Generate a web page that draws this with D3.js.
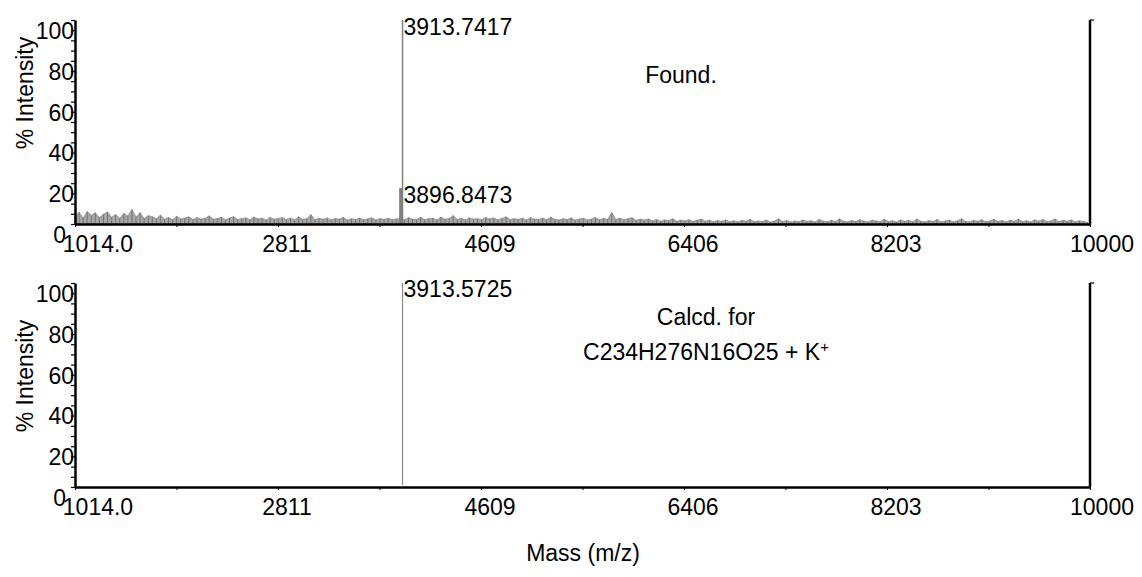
<!DOCTYPE html>
<html>
<head>
<meta charset="utf-8">
<script src="https://cdn.jsdelivr.net/npm/d3@7"></script>
<style>
body { margin: 0; background: #fff; }
text { font-family: "Liberation Sans", Arial, sans-serif; font-size: 23px; fill: #000; }
</style>
</head>
<body>
<script>
// mass range and ticks
var massMin = 1014, massMax = 10000;
var xTickValues = [1014, 2811, 4609, 6406, 8203, 10000];
var xTickLabels = ["1014.0", "2811", "4609", "6406", "8203", "10000"];
var yTickValues = [0, 20, 40, 60, 80, 100];

// found spectrum: background noise sampled every 36 Da from 1014
var noiseStart = 1014, noiseStep = 36;
var noiseValues = [
	3.5, 5.8, 2.9, 6.1, 4.2, 5.5, 3.1, 4.8, 5.9, 3.3,
	4.6, 2.8, 5.2, 3.9, 7.2, 3.4, 5.6, 2.7, 4.1, 3.6,
	2.6, 4.3, 2.4, 3.2, 2.1, 3.8, 2.5, 2.9, 3.5, 2.2,
	3.1, 2.4, 2.8, 4.0, 2.3, 2.7, 3.3, 2.0, 2.9, 3.6,
	2.2, 2.6, 3.0, 2.1, 3.4, 2.5, 2.8, 2.0, 3.2, 2.4,
	2.7, 3.1, 2.2, 2.9, 2.0, 3.5, 2.3, 2.6, 4.6, 2.1,
	2.8, 2.3, 3.0, 2.0, 2.7, 2.4, 3.2, 1.9, 2.6, 2.2,
	2.9, 2.1, 2.5, 3.0, 2.0, 2.6, 2.3, 2.8, 2.1, 2.5,
	2.7, 2.0, 3.1, 2.4, 2.2, 3.3, 2.1, 2.6, 2.9, 2.0,
	3.4, 2.3, 2.7, 4.1, 2.2, 2.8, 2.0, 3.0, 2.4, 2.6,
	2.1, 3.2, 2.5, 2.9, 2.0, 2.7, 3.5, 2.2, 2.6, 2.3,
	2.8, 2.0, 3.1, 2.4, 2.2, 2.9, 2.1, 3.3, 2.3, 2.0,
	2.6, 2.2, 3.0, 1.9, 2.5, 2.8, 2.0, 2.4, 3.2, 2.1,
	2.7, 2.3, 5.6, 2.2, 2.9, 2.0, 2.6, 3.1, 1.8, 2.4,
	1.9, 2.5, 1.6, 2.2, 1.4, 2.0, 1.7, 2.6, 1.3, 1.9,
	1.5, 2.1, 1.2, 1.8, 2.4, 1.4, 1.9, 1.1, 1.7, 1.3,
	2.0, 1.2, 1.6, 1.0, 1.8, 1.3, 2.3, 1.1, 1.5, 1.2,
	1.9, 1.0, 1.4, 2.6, 1.2, 1.7, 1.0, 1.5, 1.1, 2.0,
	1.3, 1.6, 1.0, 2.2, 1.4, 1.1, 1.8, 1.2, 2.5, 1.3,
	1.0, 1.7, 1.2, 2.1, 1.4, 1.0, 1.9, 1.5, 1.1, 2.3,
	1.2, 1.6, 1.0, 2.0, 1.3, 1.8, 1.1, 2.4, 1.4, 1.0,
	1.7, 1.2, 2.2, 1.0, 1.5, 1.9, 1.1, 1.6, 2.6, 1.2,
	1.0, 1.8, 1.3, 2.1, 1.1, 1.5, 2.3, 1.2, 1.7, 1.0,
	1.9, 1.3, 2.4, 1.1, 1.6, 1.0, 2.0, 1.4, 2.2, 1.2,
	1.5, 2.5, 1.1, 1.8, 1.3, 2.0, 1.0, 1.6, 1.2, 0.8
];
var foundPeakMasses = [3896.8473, 3913.7417];
var foundPeakIntensities = [17.6, 100];
var foundPeakLabels = ["3896.8473", "3913.7417"];

// calculated isotope pattern
var calcPeakMasses = [3913.5725];
var calcPeakIntensities = [100];
var calcPeakLabels = ["3913.5725"];

var W = 1142, H = 577;
var left = 75, right = 1090;
var panels = [
	{ top: 20, bottom: 224, note: ["Found."], noteX: 681, noteY: 83, titleY: 93 },
	{ top: 283, bottom: 487, note: ["Calcd. for", "C234H276N16O25 + K"], noteX: 706, noteY: 325, titleY: 376 }
];

var svg = d3.select("body").append("svg")
	.attr("width", W)
	.attr("height", H);

var x = d3.scaleLinear().domain([massMin, massMax]).range([left, right]);

// minor ticks at half steps between labelled ticks
var xMinor = [];
for (var k = 0; k < xTickValues.length - 1; k++) {
	xMinor.push((xTickValues[k] + xTickValues[k + 1]) / 2);
}

panels.forEach(function (p, pi) {
	var y = d3.scaleLinear().domain([0, 100]).range([p.bottom, p.top]);
	var g = svg.append("g");

	if (pi == 0) {
		var noise = noiseValues.map(function (v, i) {
			return [noiseStart + i * noiseStep, v];
		});
		// filled jagged trace
		g.append("path")
			.datum(noise)
			.attr("fill", "#a6a6a6")
			.attr("stroke", "#8f8f8f")
			.attr("stroke-width", 0.8)
			.attr("d", d3.area()
				.x(function (d) { return x(d[0]); })
				.y0(y(0))
				.y1(function (d) { return y(d[1]); }));
		// spikes
		g.selectAll("line.noise")
			.data(noise)
			.enter().append("line")
			.attr("class", "noise")
			.attr("x1", function (d) { return x(d[0]); })
			.attr("x2", function (d) { return x(d[0]); })
			.attr("y1", y(0))
			.attr("y2", function (d) { return y(d[1]); })
			.attr("stroke", "#777")
			.attr("stroke-width", 1);

		g.selectAll("line.peak")
			.data(foundPeakMasses)
			.enter().append("line")
			.attr("class", "peak")
			.attr("x1", function (d) { return x(d); })
			.attr("x2", function (d) { return x(d); })
			.attr("y1", y(0))
			.attr("y2", function (d, i) { return y(foundPeakIntensities[i]); })
			.attr("stroke", "#808080")
			.attr("stroke-width", function (d, i) { return i == 0 ? 3 : 1.5; });

		g.selectAll("text.plabel")
			.data(foundPeakLabels)
			.enter().append("text")
			.attr("class", "plabel")
			.attr("x", x(foundPeakMasses[1]) + 1)
			.attr("y", function (d, i) { return y(foundPeakIntensities[i]) + 15; })
			.text(function (d) { return d; });
	} else {
		g.selectAll("line.peak")
			.data(calcPeakMasses)
			.enter().append("line")
			.attr("class", "peak")
			.attr("x1", function (d) { return x(d); })
			.attr("x2", function (d) { return x(d); })
			.attr("y1", y(0) - 2)
			.attr("y2", function (d, i) { return y(calcPeakIntensities[i]); })
			.attr("stroke", "#8a8a8a")
			.attr("stroke-width", 1.2);

		g.selectAll("text.plabel")
			.data(calcPeakLabels)
			.enter().append("text")
			.attr("class", "plabel")
			.attr("x", function (d, i) { return x(calcPeakMasses[i]) + 1; })
			.attr("y", function (d, i) { return y(calcPeakIntensities[i]) + 14; })
			.text(function (d) { return d; });
	}

	// left axis
	var yAxis = g.append("g")
		.attr("transform", "translate(" + left + ",0)")
		.call(d3.axisLeft(y).tickValues(d3.range(0, 101, 5)).tickSize(4).tickSizeOuter(0).tickFormat(""));
	yAxis.select(".domain").attr("stroke-width", 2.5);
	yAxis.selectAll(".tick line").attr("stroke-width", 1.2);

	g.selectAll("text.ytick")
		.data(yTickValues)
		.enter().append("text")
		.attr("class", "ytick")
		.attr("text-anchor", "end")
		.attr("x", function (d) { return d == 0 ? left - 9 : left - 1; })
		.attr("y", function (d) { return y(d) + 19; })
		.text(function (d) { return d; });

	// bottom axis
	var xAxis = g.append("g")
		.attr("transform", "translate(0," + p.bottom + ")")
		.call(d3.axisBottom(x).tickValues(xTickValues.concat(xMinor)).tickSize(3).tickSizeOuter(0).tickFormat(""));
	xAxis.select(".domain").attr("stroke-width", 2.5);

	g.selectAll("text.xtick")
		.data(xTickValues)
		.enter().append("text")
		.attr("class", "xtick")
		.attr("text-anchor", "middle")
		.attr("x", function (d, i) {
			if (i == 0) return x(d) + 23;
			if (i == xTickValues.length - 1) return x(d) + 12;
			return x(d) + 9;
		})
		.attr("y", p.bottom + 28)
		.text(function (d, i) { return xTickLabels[i]; });

	// right frame line with top tick
	g.append("line")
		.attr("x1", right).attr("x2", right)
		.attr("y1", p.top).attr("y2", p.bottom)
		.attr("stroke", "#000").attr("stroke-width", 2.5);
	g.append("line")
		.attr("x1", right).attr("x2", right + 4)
		.attr("y1", p.top).attr("y2", p.top)
		.attr("stroke", "#000").attr("stroke-width", 1.2);

	// axis title
	g.append("text")
		.attr("text-anchor", "middle")
		.attr("transform", "translate(33," + p.titleY + ") rotate(-90)")
		.text("% Intensity");

	// note text
	var note = g.append("text")
		.attr("text-anchor", "middle")
		.attr("x", p.noteX)
		.attr("y", p.noteY);
	p.note.forEach(function (line, li) {
		var ts = note.append("tspan")
			.attr("x", p.noteX)
			.attr("dy", li == 0 ? 0 : 35)
			.text(line);
		if (pi == 1 && li == 1) {
			ts.append("tspan")
				.attr("dy", -8)
				.attr("font-size", "15px")
				.text("+");
		}
	});
});

svg.append("text")
	.attr("text-anchor", "middle")
	.attr("x", 583)
	.attr("y", 561)
	.text("Mass (m/z)");
</script>
</body>
</html>
